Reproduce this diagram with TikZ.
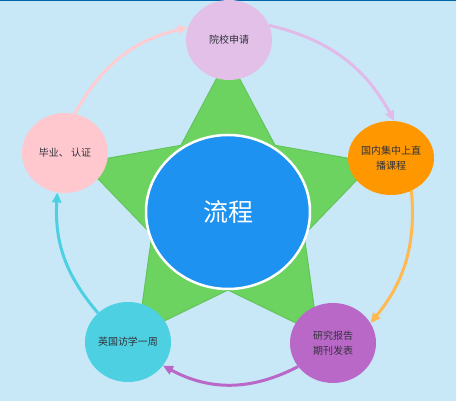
\documentclass[tikz,border=0pt]{standalone}
\usepackage{fontspec}
\newfontfamily\cjk{Noto Sans CJK SC}
\usetikzlibrary{shapes.geometric,arrows.meta}
\definecolor{bg}{RGB}{200,232,248}
\definecolor{topc}{RGB}{226,192,232}
\definecolor{rightc}{RGB}{255,152,0}
\definecolor{leftc}{RGB}{255,200,206}
\definecolor{blc}{RGB}{77,208,225}
\definecolor{brc}{RGB}{186,104,200}
\definecolor{centerc}{RGB}{30,146,240}
\definecolor{starc}{RGB}{108,211,96}
\definecolor{stardark}{RGB}{100,196,92}
\definecolor{pinkarr}{RGB}{255,204,210}
\definecolor{lilacarr}{RGB}{226,186,232}
\definecolor{orangearr}{RGB}{255,185,80}
\definecolor{topline}{RGB}{0,102,170}
\definecolor{txt}{RGB}{50,50,60}
\tikzset{
  stage/.style={ellipse,draw=none,inner sep=0pt,minimum width=86pt,minimum height=80pt},
  lab/.style={text=txt,align=center,font=\cjk\fontsize{10}{15}\selectfont},
  arr/.style={line width=3pt,-{Triangle[length=10pt,width=9pt]}},
}
\begin{document}
\begin{tikzpicture}[x=1pt,y=1pt]
\useasboundingbox (0,0) rectangle (456,401);
\fill[bg] (0,0) rectangle (456,401);
\draw[topline,line width=2pt] (0,401) -- (456,401);
% star
\fill[starc,draw=stardark,line width=1pt,shift={(228,191)}]
  (90:153) -- (126:80) -- (162:153) -- (198:80) -- (234:153) -- (270:80)
  -- (306:153) -- (342:80) -- (18:153) -- (54:80) -- cycle;
% center
\node[ellipse,fill=centerc,draw=white,line width=2.5pt,minimum width=164pt,minimum height=154pt,inner sep=0pt,
  text=white,font=\cjk\fontsize{25}{28}\selectfont] (c) at (228,189) {流程};
% stages
\node[stage,fill=topc,label={[lab]center:院校申请}] (top) at (229,361) {};
\node[stage,fill=rightc,minimum height=74pt,label={[lab]center:国内集中上直\\播课程}] (right) at (391,243) {};
\node[stage,fill=leftc,label={[lab]center:毕业、 认证}] (left) at (65,248) {};
\node[stage,fill=blc,label={[lab]center:英国访学一周}] (bl) at (128,59) {};
\node[stage,fill=brc,label={[lab]center:研究报告\\期刊发表}] (br) at (333,58) {};
% arrows
\draw[arr,pinkarr] (left.76) to[bend left=24] (top.163);
\draw[arr,lilacarr] (top.20) to[bend left=24] (right.85);
\draw[arr,orangearr] (right.-58) to[bend left=22] (br.28);
\draw[arr,brc] (br.214) to[bend left=28] (bl.-34);
\draw[arr,blc] (bl.136) to[bend left=22] (left.259);
\end{tikzpicture}
\end{document}
